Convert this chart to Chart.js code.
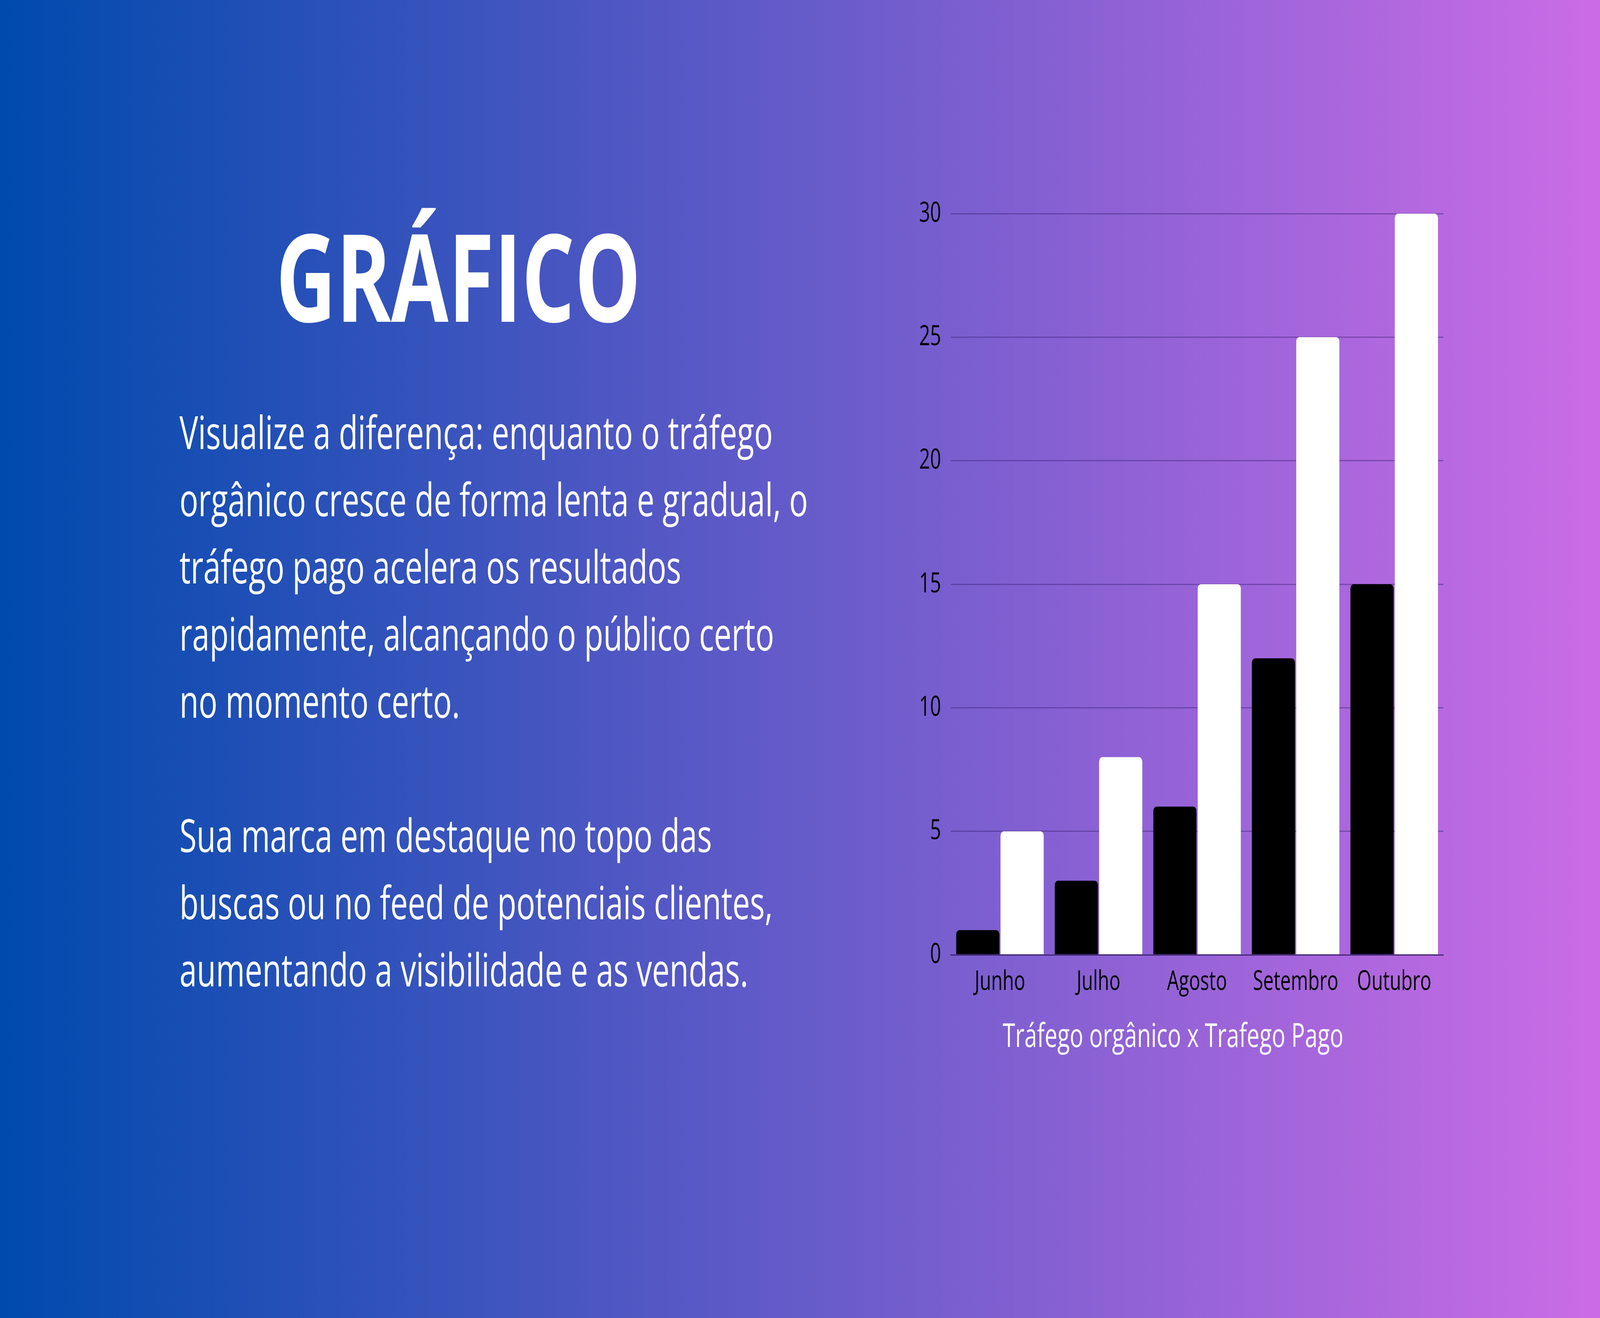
<!DOCTYPE html>
<html lang="pt-BR">
<head>
<meta charset="utf-8">
<title>Gráfico</title>
<script src="https://cdn.jsdelivr.net/npm/chart.js@4.4.1/dist/chart.umd.min.js"></script>
<style>
  html, body {
    margin: 0;
    padding: 0;
    width: 100%;
    height: 100%;
    overflow: hidden;
    background: linear-gradient(90deg, #004aad 0%, #cb6ce6 100%);
  }
  #stage {
    position: absolute;
    left: 0;
    top: 0;
    width: 6000px;
    height: 3375px;
    transform-origin: 0 0;
    background: linear-gradient(90deg, #004aad 0%, #cb6ce6 100%);
    font-family: "Open Sans", sans-serif;
    color: #ffffff;
  }
  h1 {
    position: absolute;
    left: 0;
    width: 3438px;
    top: 547px;
    margin: 0;
    text-align: center;
    font-size: 312px;
    font-weight: 700;
    line-height: 1;
  }
  .texto {
    position: absolute;
    left: 673px;
    top: 1019px;
    margin: 0;
    font-size: 117px;
    line-height: 172px;
    white-space: nowrap;
  }
  #grafico-box {
    position: absolute;
    left: 3385px;
    top: 454px;
    width: 2030px;
    height: 2300px;
  }
</style>
</head>
<body>
<div id="stage">
  <h1>GRÁFICO</h1>
  <div class="texto">
    Visualize a diferença: enquanto o tráfego<br>
    orgânico cresce de forma lenta e gradual, o<br>
    tráfego pago acelera os resultados<br>
    rapidamente, alcançando o público certo<br>
    no momento certo.<br>
    <br>
    Sua marca em destaque no topo das<br>
    buscas ou no feed de potenciais clientes,<br>
    aumentando a visibilidade e as vendas.
  </div>
  <div id="grafico-box"><canvas id="grafico"></canvas></div>
</div>

<script>
const meses = ["Junho", "Julho", "Agosto", "Setembro", "Outubro"];
const organico = [1, 3, 6, 12, 15];
const pago = [5, 8, 15, 25, 30];
const ticksY = [0, 5, 10, 15, 20, 25, 30];

const FONTE = "'Open Sans', sans-serif";

function ajustarPalco() {
  // slide is laid out at 6000x3375 and stretched to fill the window
  const stage = document.getElementById("stage");
  const sx = window.innerWidth / 6000;
  const sy = window.innerHeight / 3375;
  stage.style.transform = "scale(" + sx + ", " + sy + ")";
}

document.addEventListener("DOMContentLoaded", () => {
  ajustarPalco();

  const ctx = document.getElementById("grafico");

  new Chart(ctx, {
    type: "bar",
    data: {
      labels: meses,
      datasets: [
        {
          label: "Tráfego orgânico",
          data: organico,
          backgroundColor: "#000000",
          borderRadius: 12,
          borderSkipped: "start",
        },
        {
          label: "Trafego Pago",
          data: pago,
          backgroundColor: "#ffffff",
          borderRadius: 12,
          borderSkipped: "start",
        },
      ],
    },
    options: {
      responsive: true,
      maintainAspectRatio: false,
      animation: false,
      categoryPercentage: 0.9,
      barPercentage: 0.973,
      layout: { padding: { top: 93, right: 2, left: 0, bottom: 0 } },
      plugins: {
        legend: { display: false },
        tooltip: { enabled: false },
        title: {
          display: true,
          position: "bottom",
          text: "Tráfego orgânico x Trafego Pago",
          color: "#ffffff",
          font: { family: FONTE, size: 85, weight: "normal" },
          padding: { top: 31, bottom: 46 },
        },
      },
      scales: {
        x: {
          grid: { display: false, drawTicks: false },
          border: { display: true, color: "rgba(45, 30, 95, 0.75)", width: 3 },
          ticks: {
            color: "#000000",
            font: { family: FONTE, size: 70 },
            padding: 28,
          },
          afterFit: (scale) => { scale.height = 130; },
        },
        y: {
          min: 0,
          max: 30,
          afterBuildTicks: (scale) => {
            scale.ticks = ticksY.map((v) => ({ value: v }));
          },
          grid: { color: "rgba(55, 30, 115, 0.45)", lineWidth: 3, drawTicks: false },
          border: { display: false },
          ticks: {
            color: "#000000",
            font: { family: FONTE, size: 72 },
            padding: 36,
          },
          afterFit: (scale) => { scale.width = 180; },
        },
      },
    },
  });
});
</script>
</body>
</html>
